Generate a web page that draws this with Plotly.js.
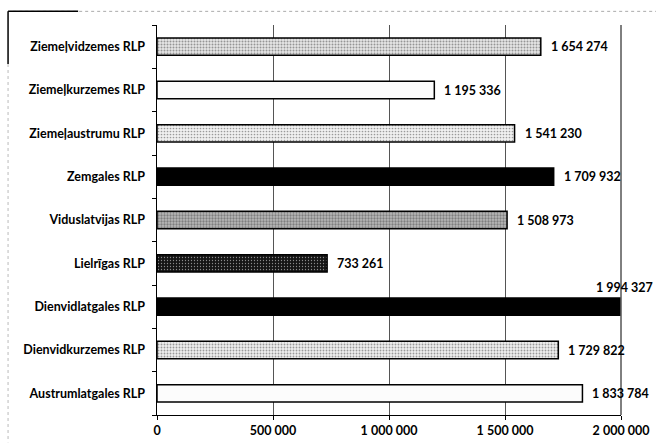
<!DOCTYPE html>
<html>
<head>
<meta charset="utf-8">
<script src="https://cdn.plot.ly/plotly-3.0.1.min.js"></script>
<style>html,body{margin:0;padding:0;overflow:hidden;background:#fff}</style>
</head>
<body>
<div id="chart" style="width:656px;height:445px"></div>
<script>
// ---- data ----
const categories = [
  "Ziemeļvidzemes RLP",
  "Ziemeļkurzemes RLP",
  "Ziemeļaustrumu RLP",
  "Zemgales RLP",
  "Viduslatvijas RLP",
  "Lielrīgas RLP",
  "Dienvidlatgales RLP",
  "Dienvidkurzemes RLP",
  "Austrumlatgales RLP"
];
const values = [1654274, 1195336, 1541230, 1709932, 1508973, 733261, 1994327, 1729822, 1833784];
const xTickVals = [0, 500000, 1000000, 1500000, 2000000];
const xTickText = ["0", "500 000", "1 000 000", "1 500 000", "2 000 000"];

// ---- styles (per bar) ----
const barBase  = ["#e6e6e6", "#fcfcfc", "#f0f0f0", "#000000", "#b8b8b8", "#151515", "#000000", "#eeeeee", "#fcfcfc"];
const patShape = [".", "", ".", "", ".", ".", "", ".", ""];
const patFg    = ["#555555", "#ffffff", "#8a8a8a", "#000000", "#3a3a3a", "#8a8a8a", "#000000", "#8a8a8a", "#ffffff"];
const patSol   = [0.35, 0.1, 0.25, 0.1, 0.45, 0.15, 0.1, 0.3, 0.1];

function fmt(v) {
  return String(v).replace(/\B(?=(\d{3})+(?!\d))/g, " ");
}

const font = {family: "Lato, 'Open Sans', sans-serif", size: 12.5, color: "#000"};

const trace = {
  type: "bar",
  orientation: "h",
  y: categories,
  x: values,
  width: 0.4,
  marker: {
    color: barBase,
    line: {color: "#000", width: 1.5},
    pattern: {shape: patShape, fgcolor: patFg, size: 3, solidity: patSol, fillmode: "overlay"}
  },
  hoverinfo: "skip"
};

const xmax = xTickVals[xTickVals.length - 1];
const annotations = categories.map((c, i) => {
  const over = values[i] > 0.95 * xmax;
  return {
    x: values[i], y: c, xref: "x", yref: "y",
    text: "<b>" + fmt(values[i]) + "</b>",
    showarrow: false, xanchor: over ? "right" : "left",
    xshift: over ? 35 : 8, yshift: over ? 19 : 0,
    font: font
  };
});

const layout = {
  width: 656, height: 445,
  margin: {l: 157, r: 35, t: 25, b: 30, pad: 0},
  paper_bgcolor: "#fff", plot_bgcolor: "#fff",
  showlegend: false,
  font: font,
  xaxis: {
    range: [0, xmax],
    tickvals: xTickVals,
    ticktext: xTickText.map(t => "<b>" + t + "</b>"),
    showgrid: true, gridcolor: "#555", gridwidth: 1,
    zeroline: false,
    showline: true, linecolor: "#000", linewidth: 1,
    ticks: "outside", ticklen: 4, tickcolor: "#000",
    tickfont: font,
    fixedrange: true
  },
  yaxis: {
    type: "category",
    autorange: "reversed",
    tickvals: categories,
    ticktext: categories.map(t => "<b>" + t + "</b>"),
    showgrid: false, zeroline: false,
    showline: true, linecolor: "#000", linewidth: 1.5,
    ticks: "outside", ticklen: 4, tickcolor: "#000", tickson: "boundaries",
    ticklabelstandoff: 8,
    tickfont: font,
    fixedrange: true
  },
  annotations: annotations,
  shapes: [
    {type: "line", xref: "paper", yref: "paper", x0: 1, x1: 1, y0: 0, y1: 1, line: {color: "#000", width: 1}},
    {type: "line", xref: "paper", yref: "paper", x0: -0.31, x1: 1.08, y0: 1.035, y1: 1.035, line: {color: "#aaa", width: 1, dash: "dot"}},
    {type: "line", xref: "paper", yref: "paper", x0: -0.321, x1: -0.17, y0: 1.035, y1: 1.035, line: {color: "#000", width: 1.5}},
    {type: "line", xref: "paper", yref: "paper", x0: -0.321, x1: -0.321, y0: 1.035, y1: 0.9, line: {color: "#000", width: 1.5}},
    {type: "line", xref: "paper", yref: "paper", x0: -0.321, x1: -0.321, y0: 0.9, y1: -0.07, line: {color: "#bbb", width: 1, dash: "dot"}}
  ]
};

Plotly.newPlot("chart", [trace], layout, {displayModeBar: false, staticPlot: true});
</script>
</body>
</html>
